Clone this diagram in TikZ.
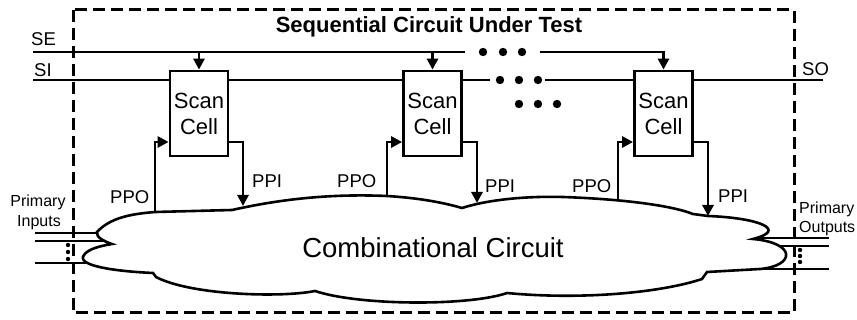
\documentclass[tikz,border=0pt]{standalone}
\usepackage{fontspec}
\setmainfont{Liberation Sans}
\usetikzlibrary{arrows.meta}
\tikzset{
  wire/.style={line width=2.8pt},
  arr/.style={line width=2.8pt,-{Triangle[length=11pt,width=11pt]}},
  cell/.style={draw,line width=2.8pt,minimum width=58pt,minimum height=85pt,inner sep=0pt,align=center,font=\fontsize{22}{26}\selectfont},
  lbl/.style={inner sep=0pt,font=\fontsize{18.5}{20}\selectfont},
  small/.style={inner sep=0pt,font=\fontsize{16}{18}\selectfont}
}
\begin{document}
\begin{tikzpicture}[x=1pt,y=-1pt]
\useasboundingbox (0,0) rectangle (857,320);
% dashed boundary
\draw[line width=3pt,dash pattern=on 12pt off 6pt] (73,10) rectangle (794,313);
\node[inner sep=0pt,anchor=base,font=\fontsize{22}{24}\selectfont\bfseries] (title) at (429,33) {Sequential Circuit Under Test};
% primary input / output lines
\coordinate (pi1) at (35,233); \coordinate (pi2) at (35,241); \coordinate (pi3) at (35,263);
\coordinate (po1) at (829,238); \coordinate (po2) at (829,246); \coordinate (po3) at (829,269);
\draw[wire] (pi1) -- (98,233);
\draw[wire] (pi2) -- (103,241);
\draw[wire] (pi3) -- (92,263);
\draw[wire] (po1) -- (753,238);
\draw[wire] (po2) -- (764,246);
\draw[wire] (po3) -- (760,269);
% cloud
\draw[line width=2.6pt,fill=white] (97,232)
  .. controls (110,218) and (130,214) .. (155,212)
  -- (232,210)
  .. controls (290,197) and (340,194) .. (387,196)
  .. controls (420,198) and (445,203) .. (462,208)
  .. controls (490,199) and (530,196) .. (563,197)
  .. controls (620,199) and (670,205) .. (693,214)
  -- (708,216)
  .. controls (760,218) and (788,230) .. (753,239)
  .. controls (797,243) and (795,266) .. (760,269)
  -- (707,272)
  -- (702,279)
  .. controls (660,293) and (580,300) .. (507,293)
  .. controls (470,306) and (360,306) .. (315,291)
  .. controls (280,298) and (190,295) .. (156,277)
  -- (153,273)
  .. controls (110,271) and (76,265) .. (84,255)
  .. controls (88,249) and (100,246) .. (112,244)
  .. controls (103,241) and (96,237) .. cycle;
\node[inner sep=0pt,anchor=base,font=\fontsize{27.5}{30}\selectfont] (comb) at (433,258) {Combinational Circuit};
% scan cells
\node[cell] (c1) at (199,113.5) {Scan\\Cell};
\node[cell] (c2) at (432.5,113.5) {Scan\\Cell};
\node[cell] (c3) at (663.5,113.5) {Scan\\Cell};
% SE line
\coordinate (se0) at (33,52); \coordinate (se1) at (465,52); \coordinate (se2) at (540,52);
\draw[wire] (se0) -- (se1);
\draw[arr] (se2) -| (c3.north);
\draw[arr] (c1.north |- se0) -- (c1.north);
\draw[arr] (c2.north |- se0) -- (c2.north);
\foreach \x in {483,503,522} \fill (\x,52) circle[radius=4.2pt];
% SI line
\coordinate (si0) at (33,80); \coordinate (si1) at (490,80); \coordinate (si2) at (545,80); \coordinate (so) at (823,80);
\draw[wire] (si0) -- (si0 -| c1.west);
\draw[wire] (c1.east |- si0) -- (c2.west |- si0);
\draw[wire] (c2.east |- si0) -- (si1);
\draw[wire] (si2) -- (c3.west |- si0);
\draw[wire] (c3.east |- si0) -- (so);
\foreach \x in {500,519,538} \fill (\x,80) circle[radius=4.2pt];
\foreach \x in {519,538,557} \fill (\x,104) circle[radius=4.2pt];
% PPO / PPI
\coordinate (hy) at (0,142);
\coordinate (o1) at (155,212); \coordinate (i1) at (243,206);
\coordinate (o2) at (387,196); \coordinate (i2) at (477,203);
\coordinate (o3) at (618,199); \coordinate (i3) at (708,216);
\draw[arr] (o1) |- (c1.west |- hy);
\draw[arr] (c1.east |- hy) -| (i1);
\draw[arr] (o2) |- (c2.west |- hy);
\draw[arr] (c2.east |- hy) -| (i2);
\draw[arr] (o3) |- (c3.west |- hy);
\draw[arr] (c3.east |- hy) -| (i3);
% labels
\node[lbl,anchor=base west] (se) at (31,46) {SE};
\node[lbl,anchor=base west] (si) at (34,77) {SI};
\node[lbl,anchor=base west] (sol) at (802,76) {SO};
\node[lbl,anchor=base west] (ppo1) at (110,204) {PPO};
\node[lbl,anchor=base west] (ppi1) at (252,188) {PPI};
\node[lbl,anchor=base west] (ppo2) at (337,188) {PPO};
\node[lbl,anchor=base west] (ppi2) at (485,193) {PPI};
\node[lbl,anchor=base west] (ppo3) at (572,193) {PPO};
\node[lbl,anchor=base west] (ppi3) at (718,203) {PPI};
\node[small,anchor=base] (pin1) at (38,207) {Primary};
\node[small,anchor=base] (pin2) at (39,227) {Inputs};
\node[small,anchor=base west] (pout1) at (799,214) {Primary};
\node[small,anchor=base west] (pout2) at (799,233) {Outputs};
% vertical dots
\foreach \y in {245,252,259} \fill (68,\y) circle[radius=2.2pt];
\foreach \y in {250,256,262} \fill (800,\y) circle[radius=2.2pt];
\end{tikzpicture}
\end{document}
